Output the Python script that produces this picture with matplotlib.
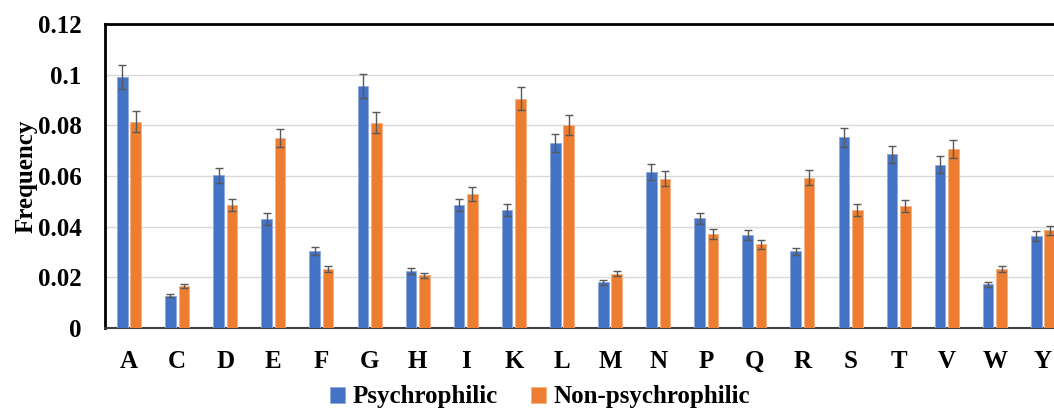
import numpy as np
import matplotlib
matplotlib.use("Agg")
from matplotlib import pyplot as plt

# amino acid frequencies
residues = ["A", "C", "D", "E", "F", "G", "H", "I", "K", "L",
            "M", "N", "P", "Q", "R", "S", "T", "V", "W", "Y"]
psychro = [0.099, 0.0128, 0.0602, 0.0430, 0.0303, 0.0955, 0.0225, 0.0485, 0.0465, 0.0730,
           0.0180, 0.0617, 0.0433, 0.0367, 0.0302, 0.0753, 0.0685, 0.0645, 0.0172, 0.0363]
nonpsychro = [0.0815, 0.0165, 0.0485, 0.0750, 0.0233, 0.0810, 0.0208, 0.0530, 0.0905, 0.0800,
              0.0215, 0.0590, 0.0370, 0.0330, 0.0593, 0.0465, 0.0480, 0.0708, 0.0232, 0.0385]
psychro_err = [0.0048, 0.0007, 0.0030, 0.0022, 0.0015, 0.0048, 0.0011, 0.0024, 0.0023, 0.0036,
               0.0009, 0.0031, 0.0022, 0.0018, 0.0015, 0.0038, 0.0034, 0.0033, 0.0009, 0.0018]
nonpsychro_err = [0.0041, 0.0008, 0.0024, 0.0037, 0.0012, 0.0041, 0.0010, 0.0027, 0.0045, 0.0040,
                  0.0011, 0.0029, 0.0019, 0.0017, 0.0029, 0.0023, 0.0024, 0.0035, 0.0012, 0.0019]
yticks = [0, 0.02, 0.04, 0.06, 0.08, 0.1, 0.12]
ytick_labels = ["0", "0.02", "0.04", "0.06", "0.08", "0.1", "0.12"]

plt.rcParams['font.family'] = ['Liberation Serif', 'DejaVu Serif']
plt.rcParams['font.weight'] = 'bold'

fig = plt.figure(figsize=(10.54, 4.08), dpi=100)
# axes run past the right edge of the picture, like the cropped original
ax = fig.add_axes([105/1054, 1 - 328/408, 962/1054, 304/408])

x = np.arange(len(residues))
w = 0.22
err_kw = dict(ecolor="#595959", elinewidth=1.0, capsize=3, capthick=1.0)
ax.bar(x - 0.14, psychro, w, color="#4472C4", edgecolor="#8FAADC", linewidth=0.6,
       yerr=psychro_err, error_kw=err_kw, label="Psychrophilic", zorder=3)
ax.bar(x + 0.14, nonpsychro, w, color="#ED7D31", edgecolor="#F4B183", linewidth=0.6,
       yerr=nonpsychro_err, error_kw=err_kw, label="Non-psychrophilic", zorder=3)

ax.set_xlim(-0.5, len(residues) - 0.5)
ax.set_ylim(0, 0.12)
ax.set_yticks(yticks)
ax.set_yticklabels(ytick_labels)
ax.set_xticks(x)
ax.set_xticklabels(residues)
ax.tick_params(axis="both", length=0, labelsize=18)
ax.tick_params(axis="x", pad=16)
ax.tick_params(axis="y", pad=17)
ax.yaxis.grid(True, color="#D9D9D9", linewidth=1.0, zorder=0)
ax.set_axisbelow(True)

for side in ["top", "left"]:
    ax.spines[side].set_linewidth(2.0)
    ax.spines[side].set_color("black")
ax.spines["bottom"].set_linewidth(1.5)
ax.spines["bottom"].set_color("#404040")
ax.spines["right"].set_visible(False)

ax.set_ylabel("Frequency", fontsize=18, fontweight="bold", labelpad=0)

fig.legend(loc="center", bbox_to_anchor=(540/1054, 1 - 397/408), ncol=2, frameon=False,
           fontsize=18, handlelength=0.6, handleheight=0.6, columnspacing=1.3,
           handletextpad=0.3)

fig.savefig("out.png", dpi=100)
